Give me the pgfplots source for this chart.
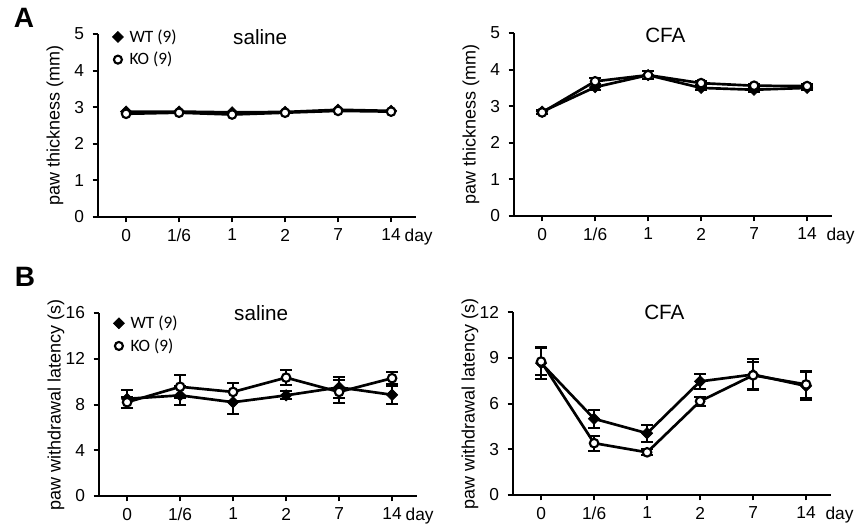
\documentclass[border=0pt]{standalone}
\usepackage{pgfplots}
\pgfplotsset{compat=1.18}
\usepackage{fontspec}
\setmainfont{Liberation Sans}
\newfontfamily\legfont{Carlito}

\pgfplotsset{
  panel/.style={
    scale only axis, width=238.5pt, height=137.25pt, anchor=south west,
    axis lines=left, axis line style={-, line width=1.8pt},
    xmin=-0.53, xmax=5.47, ymin=0,
    xtick={0,...,5}, xticklabels={0,1/6,1,2,7,14},
    tick align=outside, major tick length=4pt,
    tick style={line width=1.5pt, black},
    ticklabel style={font=\fontsize{13}{15}\selectfont},
    xticklabel style={yshift=-1.5pt},
    yticklabel style={xshift=-3pt},
    /pgf/number format/assume math mode=true,
    clip=false,
    every axis y label/.style={at={(axis description cs:-0.135,0.5)}, anchor=center, rotate=90,
      font=\fontsize{13.5}{16}\selectfont},
    legend cell align=left,
    legend image code/.code={\draw[##1] plot coordinates {(0pt,0pt)}; \path (-5pt,0pt) (6.5pt,0pt);},
    legend style={draw=none, fill=none, anchor=north west, inner sep=0pt,
      font=\legfont\fontsize{13}{15}\selectfont, row sep=2pt},
  },
  wt/.style={black, line width=2pt, mark=square*, mark size=3pt,
    mark options={rotate=45, fill=black, solid, line width=0.5pt}},
  ko/.style={black, line width=2pt, mark=*, mark size=3.2pt,
    mark options={fill=white, solid, line width=1.6pt}},
  wtleg/.style={mark=square*, mark size=2.9pt, mark options={rotate=45, fill=black, draw=black, line width=0.5pt}},
  koleg/.style={mark=*, mark size=3pt, mark options={fill=white, draw=black, line width=1.6pt}},
  errs/.style={/pgfplots/error bars/y dir=both, /pgfplots/error bars/y explicit,
    /pgfplots/error bars/error bar style={line width=1.5pt, black},
    /pgfplots/error bars/error mark options={rotate=90, mark size=4.5pt, line width=1.5pt, black}},
}
\tikzset{
  ttl/.style={font=\fontsize{15.5}{18}\selectfont},
  daylbl/.style={font=\fontsize{13}{15}\selectfont, anchor=north, yshift=-5.5pt},
}

\begin{document}
\begin{tikzpicture}
\useasboundingbox (0,0) rectangle (644.25pt,-393.75pt);
\node[font=\bfseries\fontsize{21}{24}\selectfont] at (18pt,-13.5pt) {A};
\node[font=\bfseries\fontsize{21}{24}\selectfont] at (18.75pt,-208pt) {B};

% A, saline
\begin{axis}[panel, at={(73.5pt,-162.75pt)}, ymax=5, ytick={0,...,5},
  ylabel={paw thickness (mm)},
  legend style={at={(axis description cs:0.04,1.04)}}]
\addlegendimage{wtleg}
\addlegendentry{WT (9)}
\addlegendimage{koleg}
\addlegendentry{KO (9)}
\addplot[wt, forget plot] coordinates {(0,2.88) (1,2.88) (2,2.86) (3,2.87) (4,2.93) (5,2.90)};
\addplot[ko, forget plot] coordinates {(0,2.82) (1,2.85) (2,2.80) (3,2.85) (4,2.90) (5,2.88)};
\node[ttl] at (rel axis cs:0.51,0.985) {saline};
\node[daylbl] at (axis cs:5.52,0) {day};
\end{axis}

% A, CFA
\begin{axis}[panel, at={(385.5pt,-162pt)}, ymax=5, ytick={0,...,5},
  ylabel={paw thickness (mm)}]
\addplot[wt, errs] coordinates {(0,2.85) +- (0,0.06) (1,3.52) +- (0,0.08) (2,3.85) +- (0,0.1)
  (3,3.50) +- (0,0.06) (4,3.45) +- (0,0.06) (5,3.50) +- (0,0.06)};
\addplot[ko, errs] coordinates {(0,2.83) +- (0,0.05) (1,3.68) +- (0,0.08) (2,3.85) +- (0,0.1)
  (3,3.63) +- (0,0.05) (4,3.56) +- (0,0.05) (5,3.55) +- (0,0.05)};
\node[ttl] at (rel axis cs:0.476,0.985) {CFA};
\node[daylbl] at (axis cs:5.63,0) {day};
\end{axis}

% B, saline
\begin{axis}[panel, at={(74.25pt,-372pt)}, ymax=16, ytick={0,4,...,16},
  ylabel={paw withdrawal latency (s)},
  legend style={at={(axis description cs:0.04,1.0)}}]
\addlegendimage{wtleg}
\addlegendentry{WT (9)}
\addlegendimage{koleg}
\addlegendentry{KO (9)}
\addplot[wt, errs, forget plot] coordinates {(0,8.5) +- (0,0.8) (1,8.8) +- (0,0.8) (2,8.2) +- (0,1.0)
  (3,8.8) +- (0,0.35) (4,9.5) +- (0,0.9) (5,8.85) +- (0,0.8)};
\addplot[ko, errs, forget plot] coordinates {(0,8.2) +- (0,0.5) (1,9.55) +- (0,1.0) (2,9.1) +- (0,0.8)
  (3,10.35) +- (0,0.65) (4,9.1) +- (0,1.0) (5,10.3) +- (0,0.55)};
\node[ttl] at (rel axis cs:0.51,1.0) {saline};
\node[daylbl] at (axis cs:5.52,0) {day};
\end{axis}

% B, CFA
\begin{axis}[panel, at={(384.75pt,-371.25pt)}, ymax=12, ytick={0,3,...,12},
  ylabel={paw withdrawal latency (s)}]
\addplot[wt, errs] coordinates {(0,8.65) +- (0,1.05) (1,5.0) +- (0,0.6) (2,4.05) +- (0,0.55)
  (3,7.45) +- (0,0.5) (4,7.9) +- (0,1.0) (5,7.15) +- (0,0.9)};
\addplot[ko, errs] coordinates {(0,8.75) +- (0,0.9) (1,3.4) +- (0,0.5) (2,2.8) +- (0,0.2)
  (3,6.15) +- (0,0.3) (4,7.85) +- (0,0.9) (5,7.25) +- (0,0.9)};
\node[ttl] at (rel axis cs:0.476,1.0) {CFA};
\node[daylbl] at (axis cs:5.63,0) {day};
\end{axis}
\end{tikzpicture}
\end{document}
